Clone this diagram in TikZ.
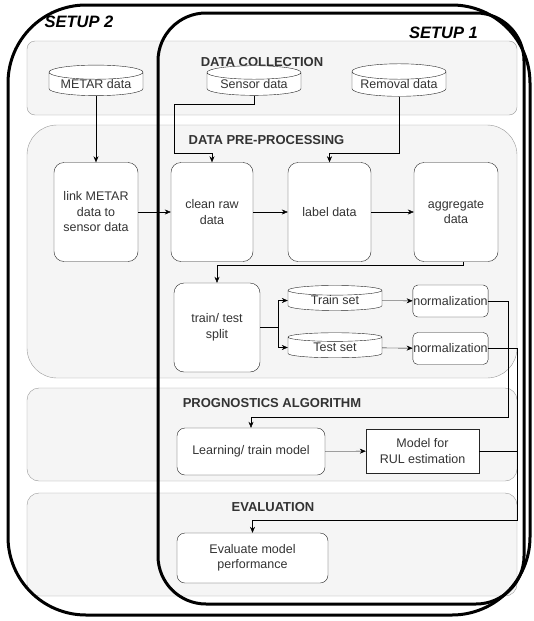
\documentclass[tikz,border=0pt]{standalone}
\usepackage{fontspec}
\setmainfont{Liberation Sans}
\usetikzlibrary{shapes.geometric,arrows.meta}

\begin{document}
\begin{tikzpicture}[x=1pt,y=-1pt,
    every node/.style={text=black!80, font=\fontsize{12.5}{15.5}\selectfont},
    band/.style={draw=black!40, fill=black!4},
    frame/.style={draw=black, line width=3pt},
    box/.style={draw=black!85, fill=white, rounded corners=10pt, align=center, inner sep=1pt},
    db/.style={cylinder, shape border rotate=90, shape aspect=0.2, draw=black!85,
        cylinder uses custom fill, cylinder body fill=white, cylinder end fill=white,
        minimum width=94pt, minimum height=27pt, inner sep=0pt},
    title/.style={font=\bfseries\fontsize{13}{15}\selectfont},
    setup/.style={font=\bfseries\itshape\fontsize{16.5}{18}\selectfont, text=black},
    >={Stealth[length=6pt,width=5pt]}]
    \useasboundingbox (0,0) rectangle (533,621);

    % phases
    \draw[band, rounded corners=8pt] (27,41) rectangle (517,115);
    \draw[band, rounded corners=30pt] (27,125) rectangle (517,378);
    \draw[band, rounded corners=12pt] (27,388) rectangle (517,481);
    \draw[band, rounded corners=12pt] (27,493) rectangle (517,596);

    % the two setups
    \draw[frame, rounded corners=78pt] (8,5) rectangle (530,615);
    \draw[frame, rounded corners=48pt] (158,13) rectangle (524,604);
    \node[setup] (setuptwo) at (79,22) {SETUP 2};
    \node[setup] (setupone) at (443.5,33) {SETUP 1};

    \node[title] (tcollect) at (262,62) {DATA COLLECTION};
    \node[title] (tprep) at (266.5,140) {DATA PRE-PROCESSING};
    \node[title] (tprog) at (272,403) {PROGNOSTICS ALGORITHM};
    \node[title] (teval) at (273,507) {EVALUATION};

    \node[db] (metar) at (96,84) {METAR data};
    \node[db] (sensor) at (254,84) {Sensor data};
    \node[db] (removal) at (399,84) {Removal data};

    \node[box, minimum width=84pt, minimum height=99pt] (link) at (96,212) {link METAR\\data to\\sensor data};
    \node[box, minimum width=82pt, minimum height=99pt] (clean) at (212,212) {clean raw\\data};
    \node[box, minimum width=83pt, minimum height=99pt] (label) at (329.5,212) {label data};
    \node[box, minimum width=84pt, minimum height=99pt] (aggr) at (456,212) {aggregate\\data};

    \node[box, minimum width=86pt, minimum height=89pt] (split) at (217,327.5) {train/ test\\split};
    \node[db, minimum height=25pt] (trainset) at (335,300.5) {Train set};
    \node[db, minimum height=25pt] (testset) at (335,347.5) {Test set};
    \node[box, rounded corners=5pt, minimum width=75pt, minimum height=32pt, inner sep=0.5pt] (normtr) at (450.5,301) {normalization};
    \node[box, rounded corners=5pt, minimum width=75pt, minimum height=32pt, inner sep=0.5pt] (normte) at (450.5,348.5) {normalization};

    \node[box, rounded corners=8pt, minimum width=148pt, minimum height=47pt] (learn) at (251,451.5) {Learning/ train model};
    \node[box, rounded corners=0pt, minimum width=113pt, minimum height=44pt] (rul) at (422.5,451) {Model for\\RUL estimation};

    \node[box, rounded corners=8pt, minimum width=151pt, minimum height=50pt] (evalm) at (252.5,558) {Evaluate model\\performance};

    % flow
    \draw[->] (metar.south) -- (link.north);
    \draw[->] (sensor.south) -- ++(0,8.5) -| ([xshift=-38pt,yshift=9.5pt]clean.north) -| (clean.north);
    \draw[->] (removal.south) |- ([yshift=9.5pt]label.north) -- (label.north);
    \draw[->] (link) -- (clean);
    \draw[->] (clean) -- (label);
    \draw[->] (label) -- (aggr);
    \draw[->] ([xshift=7pt]aggr.south) -- ++(0,3) -| (split.north);
    \draw[->] (split.east) -- ++(18,0) |- (trainset.west);
    \draw[->] (split.east) -- ++(18,0) |- (testset.west);
    \draw[->] (trainset) -- (normtr);
    \draw[->] (testset) -- (normte);
    \draw[->] (normtr.east) -- ++(20,0) |- ([yshift=11pt]learn.north) -- (learn.north);
    \draw[->] (learn) -- (rul);
    \draw[->] (normte.east) -- ++(29,0) |- ([yshift=13pt]evalm.north) -- (evalm.north);
    \draw (rul.east) -- ++(38,0);
\end{tikzpicture}
\end{document}
